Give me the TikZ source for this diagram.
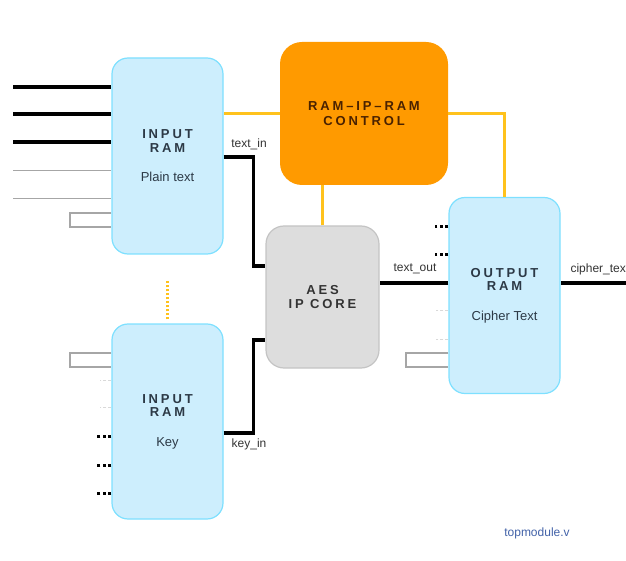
\documentclass[tikz,border=0pt]{standalone}
\usepackage{fontspec}
\setmainfont{Liberation Sans}
\newfontfamily\spacedfont[LetterSpace=22]{Liberation Sans}
\usepackage{tikz}
\usetikzlibrary{calc, positioning}
\definecolor{ramblue}{HTML}{CDEEFD}
\definecolor{ramedge}{HTML}{7EE0FF}
\definecolor{ctrlorange}{HTML}{FF9A00}
\definecolor{ctrltext}{HTML}{4A2200}
\definecolor{coregray}{HTML}{DDDDDD}
\definecolor{coreedge}{HTML}{C4C4C4}
\definecolor{ctrlwire}{HTML}{FFC21C}
\definecolor{titletext}{HTML}{2C3946}
\definecolor{filename}{HTML}{4262A8}
\newcommand{\blktitle}[1]{{\spacedfont\bfseries #1}}

\begin{document}
\begin{tikzpicture}[x=1pt, y=-1pt,
    ramblock/.style={draw=ramedge, fill=ramblue, line width=1.2pt, rounded corners=16pt,
        minimum width=111pt, minimum height=196pt, inner sep=0pt, align=center,
        font=\fontsize{13}{13.5}\selectfont, text=titletext},
    buswire/.style={line width=3.6pt},
    thinwire/.style={gray!70, line width=0.9pt},
    faintwire/.style={gray!30, line width=0.6pt, dash pattern=on 3pt off 2pt},
    dotwire/.style={line width=3pt, dash pattern=on 3pt off 2.5pt},
    ctrlline/.style={ctrlwire, line width=3.6pt},
    wirelabel/.style={font=\fontsize{12}{14}\selectfont, text=black!80}]
    \useasboundingbox (0,0) rectangle (626,561);

    % Blocks
    \node[ramblock] (pram) at (167.5,156) {\blktitle{INPUT}\\\blktitle{RAM}\\[16pt]Plain text};
    \node[ramblock, minimum height=195pt] (kram) at (167.5,421.5) {\blktitle{INPUT}\\\blktitle{RAM}\\[16pt]Key};
    \node[ramblock] (oram) at (504.5,295.5) {\blktitle{OUTPUT}\\\blktitle{RAM}\\[16pt]Cipher Text};
    \node[fill=ctrlorange, rounded corners=22pt, minimum width=168pt, minimum height=143pt,
        inner sep=0pt, align=center, text=ctrltext, font=\fontsize{13}{15}\selectfont]
        (ctrl) at (364,113.5) {\blktitle{RAM\textendash IP\textendash RAM}\\\blktitle{CONTROL}};
    \node[draw=coreedge, fill=coregray, line width=1.2pt, rounded corners=18pt, minimum width=113pt,
        minimum height=142pt, inner sep=0pt, align=center, text=black!80,
        font=\fontsize{13}{14}\selectfont]
        (aes) at (322.5,297) {\blktitle{AES}\\\blktitle{IP CORE}};

    % Control wires
    \draw[ctrlline] (ctrl.west) -- (ctrl.west -| pram.east);
    \draw[ctrlline] (ctrl.east) -| (oram.north);
    \draw[ctrlline] (aes.north) -- (aes.north |- ctrl.south);
    \draw[ctrlline, line width=3.4pt, dash pattern=on 2pt off 2pt] ($(kram.north)+(0,-4)$) -- ($(kram.north)+(0,-42)$);

    % Data wires
    \coordinate (tin) at ($(pram.east)+(0,1)$);
    \coordinate (aesin) at ($(aes.west)+(0,-31)$);
    \draw[buswire] (tin) -- ++(30,0) |- (aesin);
    \coordinate (kin) at ($(kram.east)+(0,11.5)$);
    \coordinate (aeskey) at ($(aes.west)+(0,43)$);
    \draw[buswire] (kin) -- ++(30,0) |- (aeskey);
    \coordinate (tout) at ($(oram.west)+(0,-12.5)$);
    \draw[buswire] (tout) -- (tout -| aes.east);
    \coordinate (cout) at (626,283);
    \draw[buswire] (cout) -- (cout -| oram.east);
    \node[wirelabel] (tinlbl) at (249,144) {text\_in};
    \node[wirelabel] (kinlbl) at (249,444) {key\_in};
    \node[wirelabel] (toutlbl) at (415,269) {text\_out};
    \node[wirelabel, anchor=west] (coutlbl) at (567,269) {cipher\_tex};

    % Plain text RAM inputs
    \foreach \y [count=\i] in {87,114,142} {
        \coordinate (pin\i) at (13,\y);
        \draw[buswire] (pin\i) -- (pin\i -| pram.west);
    }
    \foreach \y [count=\i] in {170,198} {
        \coordinate (pthin\i) at (13,\y);
        \draw[thinwire] (pthin\i) -- (pthin\i -| pram.west);
    }
    \draw[thinwire, line width=1.2pt] (pram.west |- 0,213) -| (70,227) -- (pram.west |- 0,227);

    % Key RAM inputs
    \draw[thinwire, line width=1.2pt] (kram.west |- 0,353) -| (70,367) -- (kram.west |- 0,367);
    \foreach \y in {380,407}
        \draw[faintwire] (kram.west |- 0,\y) -- (100,\y);
    \foreach \y in {436,465,493}
        \draw[dotwire] (kram.west |- 0,\y) -- (97,\y);

    % Output RAM inputs
    \foreach \y in {227,255}
        \draw[dotwire] (oram.west |- 0,\y) -- (435,\y);
    \foreach \y in {310,339}
        \draw[faintwire] (oram.west |- 0,\y) -- (436,\y);
    \draw[thinwire, line width=1.2pt] (oram.west |- 0,353) -| (406,367) -- (oram.west |- 0,367);

    \node[font=\fontsize{12}{14}\selectfont, text=filename] (file) at (537,533) {topmodule.v};
\end{tikzpicture}
\end{document}
